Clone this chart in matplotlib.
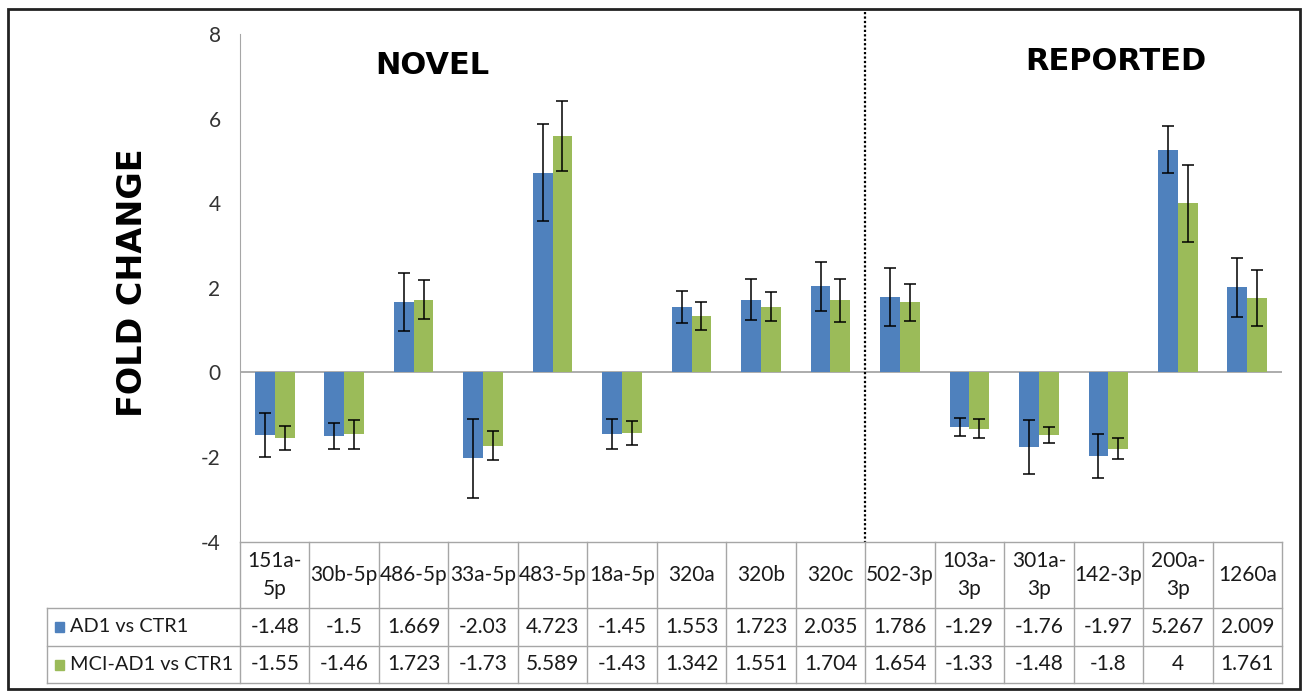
import matplotlib.pyplot as plt
import matplotlib.transforms as mtransforms
import numpy as np

plt.rcParams['font.family'] = ['Lato', 'DejaVu Sans']

categories = ["151a-\n5p", "30b-5p", "486-5p", "33a-5p", "483-5p", "18a-5p",
              "320a", "320b", "320c", "502-3p", "103a-\n3p", "301a-\n3p",
              "142-3p", "200a-\n3p", "1260a"]
series_names = ["AD1 vs CTR1", "MCI-AD1 vs CTR1"]
ad1 = [-1.48, -1.5, 1.669, -2.03, 4.723, -1.45, 1.553, 1.723, 2.035,
       1.786, -1.29, -1.76, -1.97, 5.267, 2.009]
mci = [-1.55, -1.46, 1.723, -1.73, 5.589, -1.43, 1.342, 1.551, 1.704,
       1.654, -1.33, -1.48, -1.8, 4, 1.761]
ad1_err = [0.52, 0.30, 0.68, 0.94, 1.15, 0.36, 0.38, 0.49, 0.58,
           0.69, 0.21, 0.64, 0.52, 0.56, 0.70]
mci_err = [0.29, 0.34, 0.46, 0.35, 0.83, 0.28, 0.33, 0.34, 0.51,
           0.43, 0.23, 0.19, 0.25, 0.91, 0.67]
yticks = [-4, -2, 0, 2, 4, 6, 8]

BLUE = "#4F81BD"
GREEN = "#9BBB59"
GRID = "#A6A6A6"
TXT = "#1a1a1a"
FS = 15

W, H = 1307, 694
fig = plt.figure(figsize=(W / 100, H / 100), dpi=100)

# plot area in pixels
x0, x1 = 240, 1282
ytop, ybot = 34, 541.7
ax = fig.add_axes([x0 / W, (H - ybot) / H, (x1 - x0) / W, (ybot - ytop) / H])

n = len(categories)
x = np.arange(n)
bw = 0.285
ax.bar(x - bw / 2, ad1, bw, color=BLUE, zorder=2)
ax.bar(x + bw / 2, mci, bw, color=GREEN, zorder=2)
ax.errorbar(x - bw / 2, ad1, yerr=ad1_err, fmt="none", ecolor="black",
            elinewidth=1.1, capsize=4, capthick=1.1, zorder=3)
ax.errorbar(x + bw / 2, mci, yerr=mci_err, fmt="none", ecolor="black",
            elinewidth=1.1, capsize=4, capthick=1.1, zorder=3)

ax.set_xlim(-0.5, n - 0.5)
ax.set_ylim(-4, 8)
ax.set_yticks(yticks)
ax.set_yticklabels([str(t) for t in yticks], fontsize=FS, color="#333333")
ax.tick_params(axis="y", length=0, pad=14)
ax.set_xticks([])
for s in ["top", "right", "bottom"]:
    ax.spines[s].set_visible(False)
ax.spines["left"].set_color(GRID)
ax.axhline(0, color=GRID, lw=1.3, zorder=1)

# divider between novel and reported
bt = mtransforms.blended_transform_factory(ax.transData, fig.transFigure)
ax.plot([8.5, 8.5], [(H - 12) / H, (H - ybot) / H], transform=bt,
        color="black", ls=(0, (1, 1)), lw=1.6, clip_on=False)

fig.text(432 / W, (H - 65) / H, "NOVEL", ha="center", va="center",
         fontsize=22, fontweight="bold", family="DejaVu Sans")
fig.text(1116 / W, (H - 62) / H, "REPORTED", ha="center", va="center",
         fontsize=22, fontweight="bold", family="DejaVu Sans")
fig.text(132 / W, (H - 283) / H, "FOLD CHANGE", ha="center", va="center",
         rotation=90, fontsize=24, fontweight="bold", family="DejaVu Sans")

# data table under the axes
rows_px = [ybot, 608, 646, 683]
ry = [(H - r) / H for r in rows_px]
xl = -0.5 - (x0 - 47) / ((x1 - x0) / n)
kw = dict(transform=bt, color=GRID, lw=1, clip_on=False)
ax.plot([-0.5, n - 0.5], [ry[0], ry[0]], **kw)
for r in ry[1:]:
    ax.plot([xl, n - 0.5], [r, r], **kw)
for i in range(n + 1):
    ax.plot([i - 0.5, i - 0.5], [ry[0], ry[3]], **kw)
ax.plot([xl, xl], [ry[1], ry[3]], **kw)

for i, c in enumerate(categories):
    ax.text(i, (ry[0] + ry[1]) / 2, c, transform=bt, ha="center", va="center",
            fontsize=FS, linespacing=1.5, color=TXT)
for k, (vals, col, name) in enumerate([(ad1, BLUE, series_names[0]),
                                       (mci, GREEN, series_names[1])]):
    yc = (ry[k + 1] + ry[k + 2]) / 2
    for i, v in enumerate(vals):
        ax.text(i, yc, f"{v:g}", transform=bt, ha="center", va="center",
                fontsize=FS, color=TXT)
    fig.patches.append(plt.Rectangle((55 / W, yc - 5 / H), 9 / W, 10 / H,
                                     transform=fig.transFigure, color=col))
    fig.text(70 / W, yc, name, ha="left", va="center", fontsize=14.3,
             color=TXT)

# outer frame
fig.patches.append(plt.Rectangle((8 / W, 5 / H), 1292 / W, 680 / H,
                                 transform=fig.transFigure, fill=False,
                                 edgecolor="#222222", lw=2))

fig.savefig("out.png", dpi=100)
